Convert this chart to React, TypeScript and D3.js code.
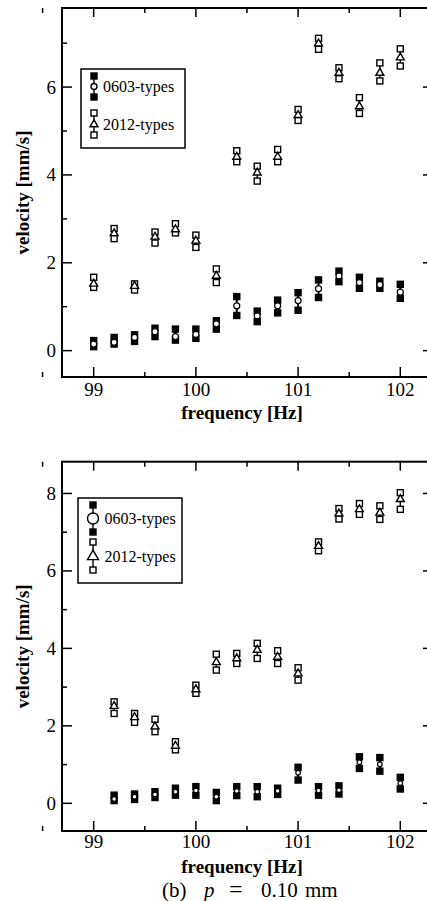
import React from "react";
import * as d3 from "d3";

// panel (a)
const freqA = [99.0, 99.2, 99.4, 99.6, 99.8, 100.0, 100.2, 100.4, 100.6, 100.8, 101.0, 101.2, 101.4, 101.6, 101.8, 102.0];
const a0603Mid = [0.15, 0.19, 0.3, 0.43, 0.32, 0.37, 0.61, 1.02, 0.79, 1.02, 1.14, 1.41, 1.7, 1.55, 1.5, 1.33];
const a0603Lo = [0.09, 0.15, 0.21, 0.32, 0.24, 0.28, 0.49, 0.8, 0.66, 0.86, 0.92, 1.21, 1.57, 1.42, 1.42, 1.19];
const a0603Hi = [0.23, 0.3, 0.36, 0.51, 0.49, 0.49, 0.68, 1.23, 0.9, 1.15, 1.32, 1.61, 1.81, 1.67, 1.58, 1.51];
const a2012Mid = [1.52, 2.67, 1.47, 2.59, 2.76, 2.5, 1.7, 4.41, 4.05, 4.41, 5.36, 6.99, 6.32, 5.56, 6.32, 6.67];
const a2012Lo = [1.44, 2.55, 1.38, 2.45, 2.68, 2.35, 1.55, 4.3, 3.86, 4.3, 5.24, 6.86, 6.19, 5.4, 6.14, 6.48];
const a2012Hi = [1.67, 2.78, 1.52, 2.7, 2.89, 2.63, 1.86, 4.55, 4.2, 4.58, 5.49, 7.11, 6.44, 5.76, 6.55, 6.87];

// panel (b)
const freqB = [99.2, 99.4, 99.6, 99.8, 100.0, 100.2, 100.4, 100.6, 100.8, 101.0, 101.2, 101.4, 101.6, 101.8, 102.0];
const b0603Mid = [0.11, 0.17, 0.23, 0.3, 0.33, 0.17, 0.32, 0.3, 0.32, 0.79, 0.33, 0.34, 1.06, 1.01, 0.52];
const b0603Lo = [0.07, 0.1, 0.15, 0.21, 0.21, 0.07, 0.2, 0.17, 0.23, 0.6, 0.21, 0.24, 0.9, 0.83, 0.37];
const b0603Hi = [0.21, 0.24, 0.3, 0.39, 0.43, 0.28, 0.43, 0.43, 0.39, 0.93, 0.43, 0.45, 1.2, 1.18, 0.67];
const b2012Mid = [2.51, 2.22, 1.98, 1.48, 2.94, 3.64, 3.74, 3.96, 3.78, 3.35, 6.64, 7.48, 7.59, 7.5, 7.85];
const b2012Lo = [2.32, 2.09, 1.85, 1.38, 2.84, 3.44, 3.61, 3.74, 3.61, 3.18, 6.52, 7.34, 7.46, 7.33, 7.59];
const b2012Hi = [2.62, 2.32, 2.17, 1.59, 3.05, 3.85, 3.87, 4.13, 3.94, 3.5, 6.75, 7.61, 7.74, 7.68, 8.02];

const xMajor = [99, 100, 101, 102];
const xMinor = [98.5, 99.5, 100.5, 101.5];
const seriesNames = ["0603-types", "2012-types"];

const FONT = "Liberation Serif";

type Series = { mid: number[]; lo: number[]; hi: number[] };

type PanelProps = {
  top: number;
  bottom: number;
  yDomain: [number, number];
  yMajor: number[];
  yMinor: number[];
  freq: number[];
  s0603: Series;
  s2012: Series;
  tickLabelDy: number;
  circleR: number;
  legend: { x: number; y: number; w: number; h: number; sym: number; gap: number; r: number; tri: number };
};

function Panel(p: PanelProps) {
  const left = 62;
  const right = 433;
  const x = d3.scaleLinear().domain([98.69, 102.32]).range([left, right]);
  const y = d3.scaleLinear().domain(p.yDomain).range([p.bottom, p.top]);
  const tri = d3.symbol().type(d3.symbolTriangle).size(27)();
  const legTri = d3.symbol().type(d3.symbolTriangle).size(p.legend.tri)();
  const sq = 6;
  const L = p.legend;

  return (
    <g>
      {/* ticks */}
      {xMajor.map((v) => (
        <g key={"xM" + v}>
          <line x1={x(v)} x2={x(v)} y1={p.bottom} y2={p.bottom - 10} stroke="#000" strokeWidth={1.5} />
          <line x1={x(v)} x2={x(v)} y1={p.top} y2={p.top + 9} stroke="#000" strokeWidth={1.5} />
          <text x={x(v)} y={p.bottom + p.tickLabelDy} textAnchor="middle" fontSize={19} fontFamily={FONT}>
            {v}
          </text>
        </g>
      ))}
      {xMinor.map((v) => (
        <g key={"xm" + v}>
          <line x1={x(v)} x2={x(v)} y1={p.bottom} y2={p.bottom - 5} stroke="#000" strokeWidth={1.5} />
          <line x1={x(v)} x2={x(v)} y1={p.top} y2={p.top + 5} stroke="#000" strokeWidth={1.5} />
        </g>
      ))}
      {p.yMajor.map((v) => (
        <g key={"yM" + v}>
          <line x1={left} x2={left + 10} y1={y(v)} y2={y(v)} stroke="#000" strokeWidth={1.5} />
          <line x1={right} x2={right - 10} y1={y(v)} y2={y(v)} stroke="#000" strokeWidth={1.5} />
          <text x={56} y={y(v) + 6.5} textAnchor="end" fontSize={19} fontFamily={FONT}>
            {v}
          </text>
        </g>
      ))}
      {p.yMinor.map((v) => (
        <g key={"ym" + v}>
          <line x1={left} x2={left + 5} y1={y(v)} y2={y(v)} stroke="#000" strokeWidth={1.5} />
          <line x1={right} x2={right - 5} y1={y(v)} y2={y(v)} stroke="#000" strokeWidth={1.5} />
        </g>
      ))}
      <rect x={left} y={p.top} width={right - left} height={p.bottom - p.top} fill="none" stroke="#000" strokeWidth={2} />

      {/* 2012-types */}
      {p.freq.map((f, i) => (
        <g key={"b" + i} stroke="#000" strokeWidth={1.4}>
          <line x1={x(f)} x2={x(f)} y1={y(p.s2012.lo[i])} y2={y(p.s2012.hi[i])} />
          <rect x={x(f) - sq / 2} y={y(p.s2012.hi[i]) - sq / 2} width={sq} height={sq} fill="#fff" />
          <rect x={x(f) - sq / 2} y={y(p.s2012.lo[i]) - sq / 2} width={sq} height={sq} fill="#fff" />
          <path d={tri ?? ""} transform={`translate(${x(f)},${y(p.s2012.mid[i])})`} fill="#fff" />
        </g>
      ))}

      {/* 0603-types */}
      {p.freq.map((f, i) => (
        <g key={"a" + i} stroke="#000" strokeWidth={1.4}>
          <line x1={x(f)} x2={x(f)} y1={y(p.s0603.lo[i])} y2={y(p.s0603.hi[i])} strokeWidth={2} />
          <rect x={x(f) - sq / 2} y={y(p.s0603.hi[i]) - sq / 2} width={sq} height={sq} fill="#000" />
          <rect x={x(f) - sq / 2} y={y(p.s0603.lo[i]) - sq / 2} width={sq} height={sq} fill="#000" />
          <circle cx={x(f)} cy={y(p.s0603.mid[i])} r={p.circleR} fill="#fff" strokeWidth={1.2} />
        </g>
      ))}

      {/* legend */}
      <rect x={L.x} y={L.y} width={L.w} height={L.h} fill="#fff" stroke="#000" strokeWidth={1.5} />
      <g stroke="#000" strokeWidth={1.4}>
        <line x1={L.sym} x2={L.sym} y1={L.y + 7} y2={L.y + 7 + L.gap} />
        <rect x={L.sym - 3} y={L.y + 4} width={6} height={6} fill="#000" />
        <rect x={L.sym - 3} y={L.y + 4 + L.gap} width={6} height={6} fill="#000" />
        <circle cx={L.sym} cy={L.y + 7 + L.gap / 2} r={L.r} fill="#fff" />
      </g>
      <g stroke="#000" strokeWidth={1.4}>
        <line x1={L.sym} x2={L.sym} y1={L.y + 44} y2={L.y + 44 + L.gap + 1} />
        <rect x={L.sym - 3} y={L.y + 41} width={6} height={6} fill="#fff" />
        <rect x={L.sym - 3} y={L.y + 42 + L.gap} width={6} height={6} fill="#fff" />
        <path d={legTri ?? ""} transform={`translate(${L.sym},${L.y + 45 + L.gap / 2})`} fill="#fff" />
      </g>
      <text x={L.sym + L.r + 6} y={L.y + 12 + L.gap / 2} fontSize={16} fontFamily={FONT}>
        {seriesNames[0]}
      </text>
      <text x={L.sym + L.r + 6} y={L.y + 50 + L.gap / 2} fontSize={16} fontFamily={FONT}>
        {seriesNames[1]}
      </text>

      {/* axis titles */}
      <text x={242} y={p.bottom + 42} textAnchor="middle" fontSize={19} fontWeight="bold" fontFamily={FONT}>
        frequency [Hz]
      </text>
      <text
        transform={`translate(29,${(p.top + p.bottom) / 2}) rotate(-90)`}
        textAnchor="middle"
        fontSize={19}
        fontWeight="bold"
        fontFamily={FONT}
      >
        velocity [mm/s]
      </text>
    </g>
  );
}

export default function App() {
  return (
    <svg width={427} height={901} style={{ position: "absolute", left: 0, top: 0, background: "#fff" }}>
      <rect width={427} height={901} fill="#fff" />
      <Panel
        top={8}
        bottom={377}
        yDomain={[-0.6, 7.8]}
        yMajor={[0, 2, 4, 6]}
        yMinor={[1, 3, 5, 7]}
        freq={freqA}
        s0603={{ mid: a0603Mid, lo: a0603Lo, hi: a0603Hi }}
        s2012={{ mid: a2012Mid, lo: a2012Lo, hi: a2012Hi }}
        tickLabelDy={19}
        circleR={3}
        legend={{ x: 81, y: 69, w: 104, h: 79, sym: 94, gap: 21, r: 3, tri: 28 }}
      />
      <Panel
        top={461.7}
        bottom={831}
        yDomain={[-0.715, 8.82]}
        yMajor={[0, 2, 4, 6, 8]}
        yMinor={[1, 3, 5, 7]}
        freq={freqB}
        s0603={{ mid: b0603Mid, lo: b0603Lo, hi: b0603Hi }}
        s2012={{ mid: b2012Mid, lo: b2012Lo, hi: b2012Hi }}
        tickLabelDy={16.5}
        circleR={2.3}
        legend={{ x: 78, y: 498, w: 104, h: 85, sym: 93, gap: 27, r: 5.5, tri: 52 }}
      />
      <text y={897} fontSize={21} fontFamily={FONT}>
        <tspan x={162}>(b)</tspan>
        <tspan x={204} fontStyle="italic">p</tspan>
        <tspan x={229} fontSize={24}>=</tspan>
        <tspan x={261}>0.10</tspan>
        <tspan x={305}>mm</tspan>
      </text>
    </svg>
  );
}
